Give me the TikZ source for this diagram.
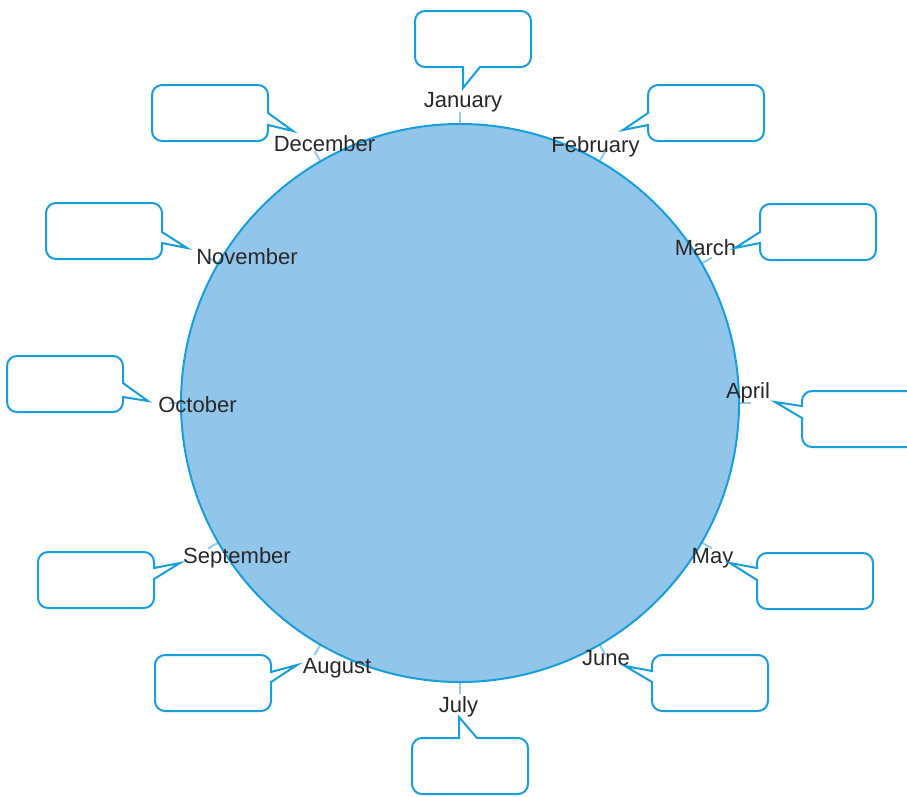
\documentclass[tikz,border=0pt]{standalone}
\usepackage{fontspec}
\setmainfont{Liberation Sans}
\definecolor{strokeblue}{RGB}{24,158,218}
\definecolor{fillblue}{RGB}{146,197,234}
\definecolor{tickblue}{RGB}{150,200,232}
\definecolor{labelgray}{RGB}{40,40,40}
\tikzset{
  callout/.style={draw=strokeblue, line width=2pt, fill=white, line join=miter},
  monthlabel/.style={anchor=base, inner sep=0pt, text=labelgray, font=\fontsize{22}{24}\selectfont},
  ticksty/.style={draw=tickblue, line width=2pt},
}
% tail on left edge: #1=l, #2=t, #3=ya, #4=yb, #5=tipx, #6=tipy
\newcommand\boxTailL[6]{\draw[callout] ({#1+10},#2) -- ({#1+106},#2) arc[start angle=270,end angle=360,radius=10] -- ({#1+116},{#2+46}) arc[start angle=0,end angle=90,radius=10] -- ({#1+10},{#2+56}) arc[start angle=90,end angle=180,radius=10] -- (#1,#4) -- (#5,#6) -- (#1,#3) -- (#1,{#2+10}) arc[start angle=180,end angle=270,radius=10] -- cycle;}
% tail on right edge
\newcommand\boxTailR[6]{\draw[callout] ({#1+10},#2) -- ({#1+106},#2) arc[start angle=270,end angle=360,radius=10] -- ({#1+116},#3) -- (#5,#6) -- ({#1+116},#4) -- ({#1+116},{#2+46}) arc[start angle=0,end angle=90,radius=10] -- ({#1+10},{#2+56}) arc[start angle=90,end angle=180,radius=10] -- (#1,{#2+10}) arc[start angle=180,end angle=270,radius=10] -- cycle;}
% tail on bottom edge: #3=xa, #4=xb
\newcommand\boxTailB[6]{\draw[callout] ({#1+10},#2) -- ({#1+106},#2) arc[start angle=270,end angle=360,radius=10] -- ({#1+116},{#2+46}) arc[start angle=0,end angle=90,radius=10] -- (#4,{#2+56}) -- (#5,#6) -- (#3,{#2+56}) -- ({#1+10},{#2+56}) arc[start angle=90,end angle=180,radius=10] -- (#1,{#2+10}) arc[start angle=180,end angle=270,radius=10] -- cycle;}
% tail on top edge
\newcommand\boxTailT[6]{\draw[callout] ({#1+10},#2) -- (#3,#2) -- (#5,#6) -- (#4,#2) -- ({#1+106},#2) arc[start angle=270,end angle=360,radius=10] -- ({#1+116},{#2+46}) arc[start angle=0,end angle=90,radius=10] -- ({#1+10},{#2+56}) arc[start angle=90,end angle=180,radius=10] -- (#1,{#2+10}) arc[start angle=180,end angle=270,radius=10] -- cycle;}
\begin{document}
\begin{tikzpicture}[x=1pt,y=-1pt]
\useasboundingbox[fill=white] (0,0) rectangle (907,796);
% ticks
\foreach \k in {0,...,11}
  \draw[ticksty,shift={(460,403)}] ({30*\k-90}:279) -- ({30*\k-90}:291);
% circle
\node[circle, draw=strokeblue, fill=fillblue, line width=2pt, minimum size=558pt, inner sep=0pt] (wheel) at (460,403) {};
% labels
\node[monthlabel] (jan) at (463,107) {January};
\node[monthlabel] (feb) at (595.5,152) {February};
\node[monthlabel] (mar) at (705.5,255) {March};
\node[monthlabel] (apr) at (748,398) {April};
\node[monthlabel] (may) at (712.5,563) {May};
\node[monthlabel] (jun) at (606,665) {June};
\node[monthlabel] (jul) at (458.5,712) {July};
\node[monthlabel] (aug) at (337,673) {August};
\node[monthlabel] (sep) at (237,563) {September};
\node[monthlabel] (oct) at (197.5,412) {October};
\node[monthlabel] (nov) at (247,264) {November};
\node[monthlabel] (dec) at (324.5,151) {December};
% callouts
\boxTailB{415}{11}{463}{480}{463}{88}
\boxTailL{648}{85}{113}{125}{623}{130}
\boxTailL{760}{204}{232}{243}{735}{248}
\boxTailL{802}{391}{406}{418}{775}{402}
\boxTailL{757}{553}{568}{580}{730}{563}
\boxTailL{652}{655}{671}{682}{625}{666}
\boxTailT{412}{738}{459}{477}{459}{717}
\boxTailR{155}{655}{672}{682}{297}{665}
\boxTailR{38}{552}{568}{579}{180}{563}
\boxTailR{7}{356}{383}{397}{148}{401}
\boxTailR{46}{203}{232}{243}{187}{248}
\boxTailR{152}{85}{113}{125}{293}{131}
\end{tikzpicture}
\end{document}
